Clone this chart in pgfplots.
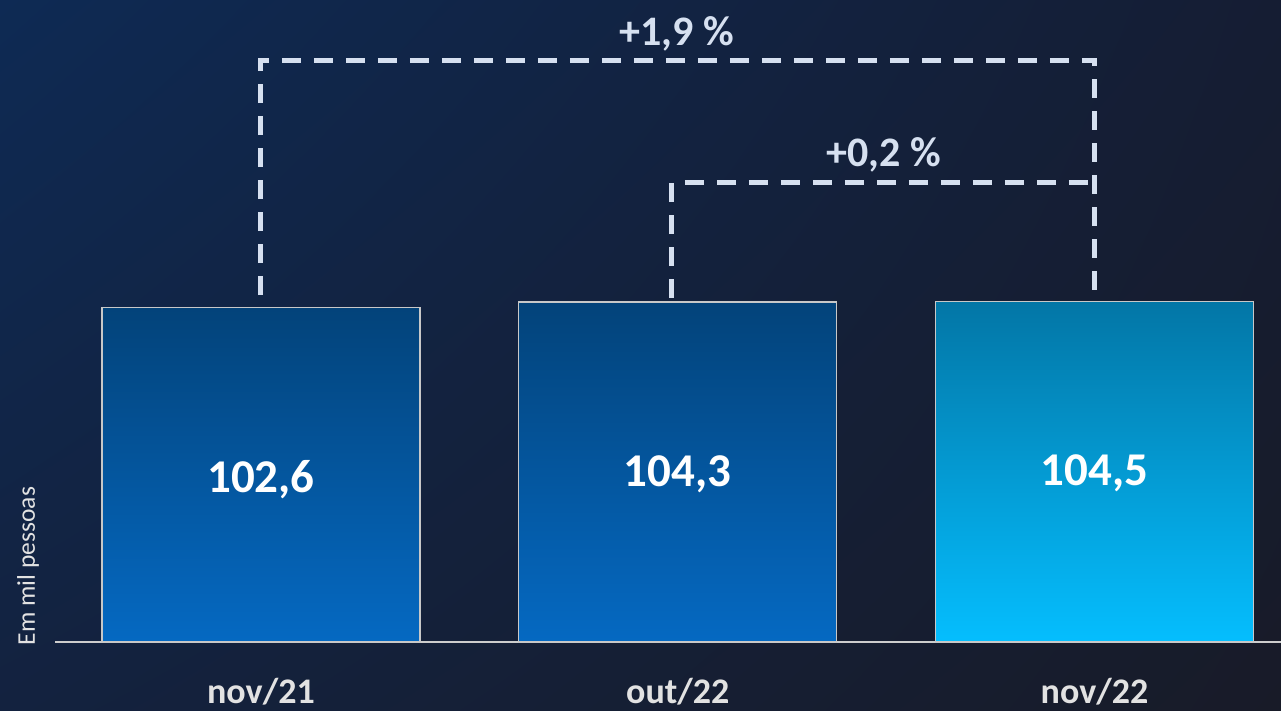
\documentclass[border=0pt]{standalone}
\usepackage{pgfplots}
\pgfplotsset{compat=1.18}
\usetikzlibrary{shadings}
\usepackage{fontspec}
\setmainfont{Carlito}
\definecolor{bgUL}{HTML}{0E2A54}
\definecolor{bgUR}{HTML}{151D33}
\definecolor{bgLL}{HTML}{13223F}
\definecolor{bgLR}{HTML}{181B28}
\definecolor{b1top}{HTML}{03437A}
\definecolor{b1bot}{HTML}{0569C2}
\definecolor{b3top}{HTML}{0376A6}
\definecolor{b3bot}{HTML}{05BEFE}
\definecolor{dashcol}{HTML}{D6E0F0}
\definecolor{labcol}{HTML}{E2E2E2}
\definecolor{edgecol}{HTML}{C8C8C8}
\begin{document}
\begin{tikzpicture}
\path[use as bounding box] (0,0) rectangle (1281pt,711pt);
\shade[upper left=bgUL, upper right=bgUR, lower left=bgLL, lower right=bgLR] (0,0) rectangle (1281pt,711pt);
\node[rotate=90, font=\fontsize{25.5}{25.5}\selectfont, text=labcol] at (28pt,145pt) {Em mil pessoas};
\begin{axis}[
  at={(55pt,69pt)}, anchor=south west,
  width=1226pt, height=642pt, scale only axis,
  xmin=-0.494, xmax=2.4475, ymin=0, ymax=196.93,
  enlargelimits=false,
  axis line style={draw=none},
  ytick=\empty,
  xtick={0,1,2},
  xticklabels={nov/21, out/22, nov/22},
  xtick style={draw=none},
  xticklabel style={font=\fontsize{36}{36}\selectfont\bfseries, text=labcol, anchor=center, inner sep=0pt, yshift=-45pt},
  ybar, bar width=0.763, bar shift=0pt,
  nodes near coords,
  /pgf/number format/.cd, use comma, fixed, precision=1, fixed zerofill, assume math mode=true,
  /pgfplots/.cd,
  every node near coord/.append style={font=\fontsize{47}{47}\selectfont\bfseries, text=white, anchor=center, yshift=-172pt},
  clip=false,
]
\draw[line width=2pt, color=edgecol!90] (rel axis cs:0,0) -- (rel axis cs:1,0);
\addplot[draw=edgecol, line width=1.5pt, top color=b1top, bottom color=b1bot] coordinates {(0,102.6)};
\addplot[draw=edgecol, line width=1.5pt, top color=b1top, bottom color=b1bot] coordinates {(1,104.3)};
\addplot[draw=edgecol, line width=1.5pt, top color=b3top, bottom color=b3bot] coordinates {(2,104.5)};
\draw[dashcol, line width=5pt, dash pattern=on 19pt off 13pt] (axis cs:0,106.4) -- (axis cs:0,178.5) -- (axis cs:2,178.5) -- (axis cs:2,106.1);
\draw[dashcol, line width=5pt, dash pattern=on 19pt off 13pt] (axis cs:0.986,105.5) -- (axis cs:0.986,140.8) -- (axis cs:2,140.8);
\node[font=\fontsize{42}{42}\selectfont\bfseries, text=dashcol] at (axis cs:0.997,186.5) {+1,9 \%};
\node[font=\fontsize{42}{42}\selectfont\bfseries, text=dashcol] at (axis cs:1.494,149.3) {+0,2 \%};
\end{axis}
\end{tikzpicture}
\end{document}
